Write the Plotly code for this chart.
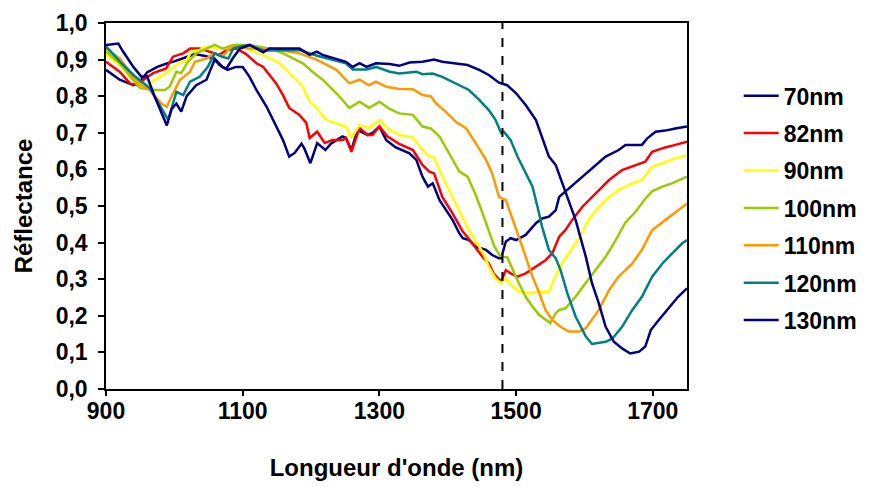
import plotly.graph_objects as go

names = ["70nm", "82nm", "90nm", "100nm", "110nm", "120nm", "130nm"]
colors = ["#000080", "#FF0000", "#FFFF00", "#99CC00", "#FF9900", "#008080", "#000080"]

x_70 = [900, 920, 940, 950, 960, 975, 990, 1000, 1015, 1030, 1045, 1059, 1070, 1078, 1090, 1100, 1110, 1120, 1135,
        1149, 1159, 1168, 1176, 1186, 1190, 1199, 1209, 1221, 1229, 1246, 1251, 1259, 1268, 1283, 1290, 1300, 1310,
        1324, 1344, 1354, 1363, 1371, 1378, 1388, 1397, 1407, 1417, 1422, 1431, 1441, 1456, 1465, 1475, 1478, 1485,
        1492, 1500, 1514, 1529, 1538, 1548, 1558, 1563, 1577, 1597, 1616, 1631, 1650, 1660, 1684, 1692, 1704, 1718,
        1733, 1750]
y_70 = [0.872, 0.845, 0.83, 0.84, 0.865, 0.88, 0.89, 0.895, 0.905, 0.915, 0.91, 0.903, 0.88, 0.872, 0.88, 0.88,
        0.853, 0.817, 0.771, 0.717, 0.68, 0.635, 0.645, 0.67, 0.658, 0.617, 0.672, 0.653, 0.67, 0.69, 0.686, 0.653,
        0.708, 0.694, 0.70, 0.717, 0.68, 0.66, 0.644, 0.626, 0.58, 0.553, 0.562, 0.516, 0.489, 0.462, 0.425, 0.412,
        0.407, 0.389, 0.38, 0.366, 0.357, 0.357, 0.403, 0.412, 0.407, 0.421, 0.453, 0.466, 0.471, 0.489, 0.525,
        0.548, 0.58, 0.612, 0.635, 0.653, 0.667, 0.667, 0.685, 0.703, 0.706, 0.712, 0.717]

x_82 = [900, 920, 935, 945, 955, 969, 988, 998, 1013, 1023, 1037, 1052, 1066, 1076, 1091, 1105, 1120, 1130, 1149,
        1159, 1168, 1183, 1193, 1198, 1209, 1220, 1231, 1246, 1251, 1259, 1271, 1283, 1290, 1300, 1312, 1329, 1349,
        1363, 1373, 1380, 1392, 1407, 1422, 1431, 1441, 1451, 1460, 1467, 1478, 1485, 1492, 1502, 1514, 1529, 1543,
        1553, 1563, 1572, 1582, 1597, 1616, 1636, 1655, 1675, 1689, 1699, 1718, 1733, 1750]
y_82 = [0.894, 0.867, 0.835, 0.83, 0.845, 0.863, 0.876, 0.908, 0.917, 0.93, 0.93, 0.922, 0.913, 0.926, 0.93, 0.915,
        0.89, 0.88, 0.835, 0.803, 0.768, 0.749, 0.727, 0.686, 0.703, 0.672, 0.68, 0.68, 0.686, 0.648, 0.713, 0.694,
        0.694, 0.717, 0.69, 0.67, 0.653, 0.612, 0.594, 0.589, 0.525, 0.48, 0.43, 0.41, 0.384, 0.361, 0.343, 0.316,
        0.293, 0.325, 0.316, 0.307, 0.316, 0.334, 0.352, 0.371, 0.416, 0.434, 0.462, 0.498, 0.535, 0.571, 0.598,
        0.612, 0.621, 0.648, 0.66, 0.667, 0.676]

x_90 = [900, 920, 940, 950, 964, 971, 988, 996, 1006, 1018, 1025, 1037, 1047, 1070, 1090, 1110, 1135, 1154, 1168,
        1188, 1198, 1208, 1222, 1251, 1259, 1271, 1285, 1300, 1315, 1329, 1349, 1363, 1373, 1380, 1392, 1407, 1422,
        1431, 1441, 1451, 1460, 1470, 1478, 1485, 1495, 1504, 1519, 1534, 1548, 1555, 1567, 1577, 1592, 1606, 1621,
        1636, 1650, 1670, 1684, 1699, 1718, 1733, 1750]
y_90 = [0.913, 0.885, 0.844, 0.826, 0.835, 0.844, 0.863, 0.876, 0.89, 0.899, 0.922, 0.926, 0.936, 0.93, 0.935,
        0.928, 0.908, 0.89, 0.863, 0.826, 0.785, 0.768, 0.735, 0.717, 0.686, 0.721, 0.713, 0.735, 0.708, 0.694,
        0.687, 0.653, 0.635, 0.633, 0.58, 0.525, 0.471, 0.434, 0.403, 0.375, 0.334, 0.302, 0.289, 0.302, 0.28,
        0.266, 0.261, 0.266, 0.266, 0.298, 0.343, 0.371, 0.412, 0.462, 0.498, 0.525, 0.544, 0.562, 0.571, 0.607,
        0.621, 0.63, 0.639]

x_100 = [900, 920, 940, 950, 971, 986, 993, 1003, 1010, 1020, 1032, 1047, 1059, 1071, 1086, 1110, 1139, 1159, 1188,
         1202, 1217, 1237, 1256, 1271, 1285, 1300, 1315, 1329, 1349, 1363, 1375, 1388, 1402, 1417, 1429, 1441, 1451,
         1460, 1468, 1476, 1482, 1487, 1495, 1504, 1514, 1524, 1534, 1543, 1550, 1558, 1563, 1572, 1587, 1602, 1616,
         1631, 1645, 1660, 1675, 1689, 1699, 1714, 1728, 1750]
y_100 = [0.922, 0.89, 0.844, 0.822, 0.817, 0.817, 0.826, 0.867, 0.863, 0.894, 0.917, 0.93, 0.94, 0.93, 0.94, 0.94,
         0.93, 0.917, 0.89, 0.867, 0.845, 0.808, 0.768, 0.785, 0.768, 0.785, 0.765, 0.753, 0.749, 0.717, 0.712,
         0.69, 0.644, 0.594, 0.58, 0.53, 0.48, 0.43, 0.39, 0.365, 0.361, 0.36, 0.325, 0.289, 0.252, 0.225, 0.202,
         0.189, 0.18, 0.207, 0.216, 0.22, 0.252, 0.29, 0.325, 0.361, 0.405, 0.455, 0.485, 0.52, 0.54, 0.553, 0.562,
         0.58]

x_110 = [900, 920, 940, 952, 964, 974, 981, 989, 996, 1008, 1023, 1030, 1047, 1059, 1071, 1083, 1096, 1110, 1140,
         1183, 1208, 1237, 1256, 1271, 1285, 1295, 1310, 1329, 1349, 1363, 1375, 1383, 1397, 1412, 1427, 1441, 1456,
         1465, 1475, 1485, 1495, 1504, 1514, 1524, 1534, 1543, 1553, 1565, 1577, 1592, 1602, 1611, 1621, 1636, 1650,
         1670, 1684, 1699, 1718, 1733, 1750]
y_110 = [0.93, 0.903, 0.853, 0.83, 0.817, 0.794, 0.78, 0.771, 0.80, 0.844, 0.867, 0.894, 0.903, 0.917, 0.908, 0.936,
         0.936, 0.93, 0.93, 0.917, 0.90, 0.872, 0.835, 0.845, 0.83, 0.84, 0.826, 0.82, 0.819, 0.803, 0.80, 0.78,
         0.758, 0.73, 0.712, 0.671, 0.626, 0.589, 0.525, 0.516, 0.465, 0.416, 0.361, 0.307, 0.261, 0.216, 0.189,
         0.17, 0.157, 0.157, 0.166, 0.189, 0.216, 0.27, 0.307, 0.343, 0.38, 0.434, 0.462, 0.484, 0.507]

x_120 = [900, 920, 940, 952, 964, 974, 984, 991, 998, 1003, 1013, 1023, 1037, 1049, 1059, 1069, 1079, 1086, 1096,
         1110, 1130, 1183, 1210, 1251, 1261, 1281, 1295, 1315, 1329, 1354, 1363, 1378, 1392, 1412, 1431, 1446, 1460,
         1470, 1478, 1482, 1492, 1502, 1512, 1524, 1531, 1538, 1548, 1558, 1565, 1575, 1587, 1602, 1611, 1621, 1631,
         1641, 1655, 1670, 1684, 1699, 1714, 1728, 1743, 1750]
y_120 = [0.936, 0.895, 0.858, 0.84, 0.822, 0.79, 0.758, 0.735, 0.78, 0.812, 0.803, 0.84, 0.853, 0.88, 0.917, 0.908,
         0.903, 0.93, 0.936, 0.94, 0.925, 0.926, 0.91, 0.89, 0.873, 0.873, 0.88, 0.867, 0.862, 0.867, 0.86, 0.862,
         0.853, 0.835, 0.817, 0.79, 0.762, 0.735, 0.70, 0.703, 0.68, 0.635, 0.598, 0.553, 0.50, 0.443, 0.38, 0.357,
         0.325, 0.261, 0.198, 0.143, 0.123, 0.125, 0.129, 0.138, 0.17, 0.216, 0.252, 0.307, 0.343, 0.37, 0.398,
         0.407]

x_130 = [900, 918, 925, 940, 952, 960, 971, 981, 989, 996, 1003, 1010, 1018, 1032, 1047, 1059, 1066, 1076, 1086,
         1096, 1110, 1130, 1139, 1183, 1198, 1208, 1217, 1251, 1261, 1271, 1281, 1295, 1304, 1315, 1329, 1344, 1363,
         1380, 1392, 1412, 1429, 1446, 1460, 1475, 1487, 1500, 1514, 1529, 1538, 1548, 1558, 1568, 1577, 1587, 1602,
         1611, 1621, 1631, 1643, 1655, 1667, 1680, 1689, 1697, 1709, 1723, 1737, 1750]
y_130 = [0.94, 0.944, 0.922, 0.88, 0.853, 0.855, 0.80, 0.753, 0.72, 0.765, 0.78, 0.758, 0.80, 0.83, 0.845, 0.90,
         0.885, 0.875, 0.905, 0.93, 0.94, 0.92, 0.93, 0.93, 0.913, 0.922, 0.913, 0.894, 0.88, 0.89, 0.88, 0.89, 0.89,
         0.888, 0.883, 0.892, 0.894, 0.90, 0.894, 0.89, 0.885, 0.872, 0.858, 0.837, 0.83, 0.808, 0.776, 0.735, 0.69,
         0.635, 0.612, 0.562, 0.516, 0.462, 0.361, 0.289, 0.234, 0.17, 0.129, 0.111, 0.097, 0.102, 0.116, 0.161,
         0.189, 0.22, 0.252, 0.275]

xs = [x_70, x_82, x_90, x_100, x_110, x_120, x_130]
ys = [y_70, y_82, y_90, y_100, y_110, y_120, y_130]

marker_wavelength = 1480
x_ticks = [900, 1100, 1300, 1500, 1700]
y_ticks = [0.0, 0.1, 0.2, 0.3, 0.4, 0.5, 0.6, 0.7, 0.8, 0.9, 1.0]
y_tick_text = ["0,0", "0,1", "0,2", "0,3", "0,4", "0,5", "0,6", "0,7", "0,8", "0,9", "1,0"]

FONT = "Liberation Sans, Arial, sans-serif"

fig = go.Figure()
for name, color, x, y in zip(names, colors, xs, ys):
    fig.add_trace(go.Scatter(x=x, y=y, mode="lines", name=name, legendgroup=name,
                             line=dict(color=color, width=2.5)))

fig.add_shape(type="line", x0=marker_wavelength, x1=marker_wavelength, y0=0, y1=1,
              xref="x", yref="y", line=dict(color="black", width=2, dash="dash"))

fig.update_layout(
    width=863, height=479,
    margin=dict(l=98, r=184, t=15, b=98, autoexpand=False),
    paper_bgcolor="white", plot_bgcolor="white",
    font=dict(family=FONT, size=23, color="black", weight="bold"),
    showlegend=True,
    legend=dict(x=1.089, y=0.86, xanchor="left", yanchor="top",
                font=dict(family=FONT, size=23, color="black", weight="bold"),
                bgcolor="rgba(0,0,0,0)", itemwidth=35, tracegroupgap=4.5),
    xaxis=dict(range=[900, 1750], tickvals=x_ticks, ticks="outside", ticklen=5,
               tickcolor="black", tickwidth=1.5, ticklabelstandoff=-4, automargin=False,
               showline=True, linecolor="black", linewidth=1.5, mirror=True,
               showgrid=False, zeroline=False,
               tickfont=dict(family=FONT, size=23, weight="bold"),
               title=dict(text="Longueur d'onde (nm)", standoff=36,
                          font=dict(family=FONT, size=24, weight="bold"))),
    yaxis=dict(range=[0, 1], tickvals=y_ticks, ticktext=y_tick_text, ticks="outside", ticklen=6,
               tickcolor="black", tickwidth=1.5, ticklabelstandoff=6, automargin=False,
               showline=True, linecolor="black", linewidth=1.5, mirror=True,
               showgrid=False, zeroline=False,
               tickfont=dict(family=FONT, size=23, weight="bold"),
               title=dict(text="Réflectance", standoff=16,
                          font=dict(family=FONT, size=24, weight="bold"))),
)

fig.write_html("out.html")
